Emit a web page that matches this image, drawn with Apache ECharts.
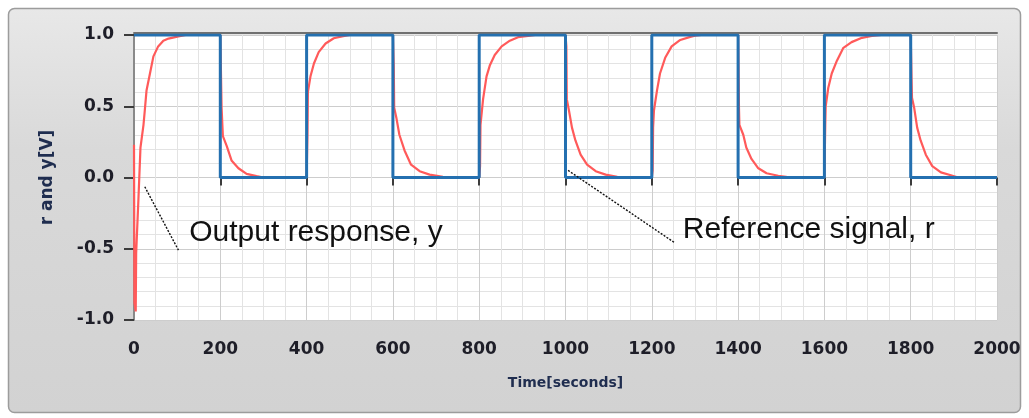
<!DOCTYPE html>
<html>
<head>
<meta charset="utf-8">
<script src="https://cdn.jsdelivr.net/npm/echarts@6/dist/echarts.min.js"></script>
<style>
  html, body { margin: 0; padding: 0; background: #ffffff; }
  #chart { width: 1029px; height: 418px; }
</style>
</head>
<body>
<div id="chart"></div>
<script>
// ---- data ----
const xTickLabels = ['0','200','400','600','800','1000','1200','1400','1600','1800','2000'];
const yTickLabels = ['-1.0','-0.5','0.0','0.5','1.0'];

// Reference signal r (square wave)
const refTime  = [0,200,200,400,400,600,600,800,800,1000,1000,1200,1200,1400,1400,1600,1600,1800,1800,2000];
const refValue = [1,1,0,0,1,1,0,0,1,1,0,0,1,1,0,0,1,1,0,0];

// Output response y
const outputTime = [
  0,1,4,5,10,15,22,25,29,37,45,56,68,80,103,120,200,
  203,206,215,226,242,261,284,300,400,
  402,403,409,417,428,444,463,482,500,600,
  602,603,608,615,627,642,662,685,716,730,800,
  802,803,809,817,825,836,852,871,890,918,930,1000,
  1002,1003,1008,1015,1023,1035,1050,1070,1093,1120,1130,1200,
  1202,1203,1205,1212,1219,1231,1246,1266,1289,1300,1315,1400,
  1402,1403,1412,1419,1431,1446,1466,1493,1511,1520,1600,
  1602,1603,1609,1617,1629,1644,1663,1687,1710,1732,1800,
  1802,1803,1808,1815,1823,1835,1850,1870,1897,1910,2000
];
const outputValue = [
  0.23,-0.88,-0.94,-0.53,-0.17,0.21,0.37,0.47,0.61,0.73,0.85,0.92,0.96,0.975,0.99,1.0,1.0,
  0.49,0.29,0.22,0.12,0.065,0.025,0.01,0,0,
  0.30,0.60,0.71,0.80,0.88,0.94,0.977,0.99,1.0,1.0,
  0.78,0.49,0.42,0.30,0.19,0.09,0.044,0.02,0.005,0,0,
  0.08,0.37,0.55,0.71,0.79,0.86,0.92,0.96,0.985,0.995,1.0,1.0,
  0.92,0.55,0.47,0.35,0.26,0.16,0.09,0.044,0.02,0.005,0,0,
  0.05,0.35,0.47,0.61,0.73,0.84,0.92,0.965,0.987,0.995,1.0,1.0,
  0.49,0.37,0.30,0.21,0.13,0.067,0.03,0.012,0.004,0,0,
  0.37,0.50,0.63,0.73,0.82,0.91,0.95,0.98,0.993,1.0,1.0,
  0.69,0.56,0.49,0.35,0.26,0.16,0.08,0.036,0.012,0,0
];

// annotations: label text and leader line end points (data units)
const annoText = ['Output response, y', 'Reference signal, r'];
const annoLeaderFrom = [[25, -0.065], [1006, 0.05]];
const annoLeaderTo   = [[103, -0.51], [1254, -0.46]];
const annoTextAt     = [[128, -0.39], [1272, -0.37]];

// ---- chart ----
const refData = refTime.map((t, i) => [t, refValue[i]]);
const outData = outputTime.map((t, i) => [t, outputValue[i]]);

const chart = echarts.init(document.getElementById('chart'), null, { renderer: 'canvas' });

const labelFont = { fontFamily: 'DejaVu Sans', fontWeight: 'bold', fontSize: 17, color: '#1e1e28' };
const xNameFont = { fontFamily: 'DejaVu Sans', fontWeight: 'bold', fontSize: 14, color: '#1f2d4f' };
const yNameFont = { fontFamily: 'DejaVu Sans', fontWeight: 'bold', fontSize: 17, color: '#1f2d4f' };

const option = {
  animation: false,
  backgroundColor: '#ffffff',
  grid: { left: 134, right: 32, top: 35, bottom: 98, show: true, backgroundColor: '#ffffff', borderWidth: 0 },
  xAxis: [
    {
      type: 'value', min: 0, max: 2000, interval: 200, position: 'bottom',
      axisLine: { show: false }, axisTick: { show: false }, axisLabel: { show: false },
      splitLine: { show: true, lineStyle: { color: '#cdcdcd', width: 1 } },
      minorTick: { show: false, splitNumber: 4 },
      minorSplitLine: { show: true, lineStyle: { color: '#e3e3e3', width: 1 } },
      name: 'Time[seconds]', nameLocation: 'middle', nameGap: 56, nameTextStyle: xNameFont
    },
    {
      type: 'value', min: 0, max: 2000, interval: 200, position: 'bottom', offset: 7,
      axisLine: { show: false },
      axisTick: { show: true, length: 8, lineStyle: { color: '#3c3c3c', width: 2 } },
      axisLabel: Object.assign({ margin: 14, formatter: (v) => xTickLabels[Math.round(v / 200)] }, labelFont),
      splitLine: { show: false }
    },
    {
      type: 'value', min: 0, max: 2000, position: 'top', offset: 2,
      axisLine: { show: true, lineStyle: { color: '#707070', width: 2 } },
      axisTick: { show: false }, axisLabel: { show: false }, splitLine: { show: false }
    }
  ],
  yAxis: [
    {
      type: 'value', min: -1, max: 1, interval: 0.5, position: 'left',
      axisLine: { show: true, lineStyle: { color: '#8a8a8a', width: 2 } },
      axisTick: { show: false }, axisLabel: { show: false },
      splitLine: { show: true, lineStyle: { color: '#cdcdcd', width: 1 } },
      minorTick: { show: false, splitNumber: 5 },
      minorSplitLine: { show: true, lineStyle: { color: '#e3e3e3', width: 1 } },
      name: 'r and y[V]', nameLocation: 'middle', nameGap: 78, nameTextStyle: yNameFont
    },
    {
      type: 'value', min: -1, max: 1, interval: 0.5, position: 'left', offset: 4,
      axisLine: { show: false },
      axisTick: { show: true, length: 10, lineStyle: { color: '#3c3c3c', width: 2 } },
      axisLabel: Object.assign({ margin: 16, formatter: (v) => yTickLabels[Math.round((v + 1) / 0.5)] }, labelFont),
      splitLine: { show: false }
    }
  ],
  series: [
    {
      name: 'y', type: 'line', xAxisIndex: 0, yAxisIndex: 0, data: outData,
      showSymbol: false, z: 2,
      lineStyle: { color: '#ff5a5a', width: 2.2 }
    },
    {
      name: 'r', type: 'line', xAxisIndex: 0, yAxisIndex: 0, data: refData,
      showSymbol: false, z: 3,
      lineStyle: { color: '#2470b0', width: 3 }
    }
  ]
};
chart.setOption(option);

// panel + annotations (placed through the chart's own coordinate conversion)
const toPx = (p) => chart.convertToPixel({ gridIndex: 0 }, p);
const graphics = [
  {
    type: 'rect', z: -10, silent: true,
    shape: { x: 8.5, y: 8.5, width: 1012, height: 404, r: 6 },
    style: {
      fill: new echarts.graphic.LinearGradient(0, 0, 0, 1, [
        { offset: 0, color: '#e8e8e8' }, { offset: 0.35, color: '#d9d9d9' }, { offset: 1, color: '#d2d2d2' }
      ]),
      stroke: '#9c9c9c', lineWidth: 1.5
    }
  }
];
for (let i = 0; i < annoText.length; i++) {
  const a = toPx(annoLeaderFrom[i]), b = toPx(annoLeaderTo[i]), t = toPx(annoTextAt[i]);
  graphics.push({
    type: 'line', z: 20, silent: true,
    shape: { x1: a[0], y1: a[1], x2: b[0], y2: b[1] },
    style: { stroke: '#111111', lineWidth: 1.4, lineDash: [2, 1.5] }
  });
  graphics.push({
    type: 'text', z: 20, silent: true, x: t[0], y: t[1],
    style: { text: annoText[i], fontFamily: 'Liberation Sans, Arial', fontSize: 30, fill: '#111111', textVerticalAlign: 'middle' }
  });
}
chart.setOption({ graphic: graphics });
</script>
</body>
</html>
